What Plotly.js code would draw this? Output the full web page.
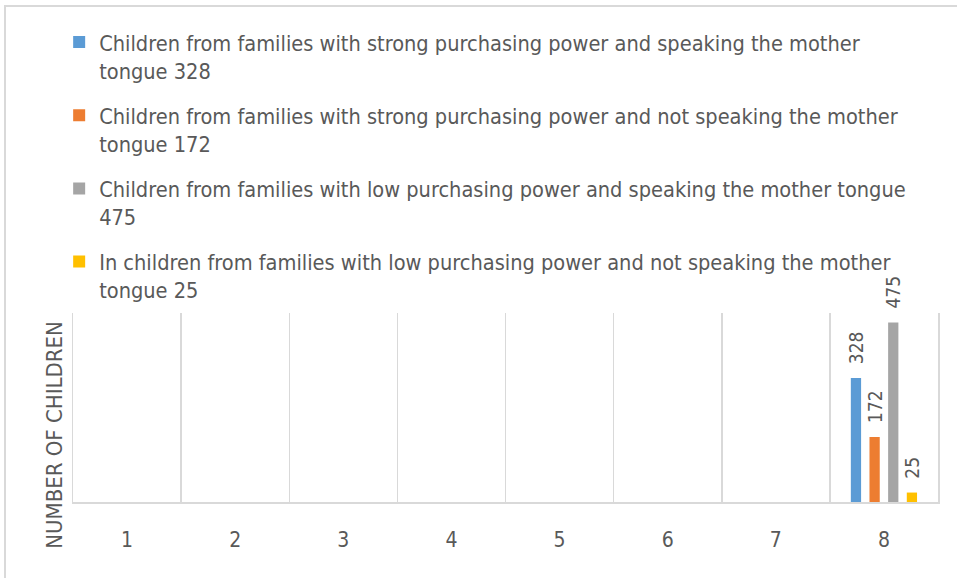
<!DOCTYPE html>
<html>
<head>
<meta charset="utf-8">
<script src="https://cdn.plot.ly/plotly-3.0.1.min.js"></script>
<style>
  html, body { margin: 0; padding: 0; background: #fff; }
  #wrap { position: relative; width: 957px; height: 578px; overflow: hidden; }
  #frame { position: absolute; left: 4px; top: 5px; width: 1000px; height: 1000px;
           border-left: 2px solid #d9d9d9; border-top: 2px solid #d9d9d9; pointer-events: none; z-index: 5; }
  #chart { position: absolute; left: 0; top: 0; width: 957px; height: 578px; }
</style>
</head>
<body>
<div id="wrap"><div id="chart"></div><div id="frame"></div></div>
<script>
const categories = ['1', '2', '3', '4', '5', '6', '7', '8'];
const seriesNames = [
  'Children from families with strong purchasing power and speaking the mother<br>tongue 328',
  'Children from families with strong purchasing power and not speaking the mother<br>tongue 172',
  'Children from families with low purchasing power and speaking the mother tongue<br>475',
  'In children from families with low purchasing power and not speaking the mother<br>tongue 25'
];
const strongMother = [null, null, null, null, null, null, null, 328];
const strongNoMother = [null, null, null, null, null, null, null, 172];
const lowMother = [null, null, null, null, null, null, null, 475];
const lowNoMother = [null, null, null, null, null, null, null, 25];
const colors = ['#5B9BD5', '#ED7D31', '#A5A5A5', '#FFC000'];
const yTitle = 'NUMBER OF CHILDREN';

const FONT = '"Liberation Sans Narrow", "DejaVu Sans Condensed", "Liberation Sans", sans-serif';
const TXT = '#595959';
const NB = '\u00a0\u00a0';

const allSeries = [strongMother, strongNoMother, lowMother, lowNoMother];
const traces = allSeries.map((vals, i) => ({
  type: 'bar',
  x: categories,
  y: vals,
  name: seriesNames[i],
  legendgroup: 'g' + i,
  marker: { color: colors[i] },
  texttemplate: NB + '%{y}',
  textposition: 'outside',
  textangle: -90,
  constraintext: 'none',
  cliponaxis: false,
  textfont: { family: FONT, size: 19, color: TXT },
  hoverinfo: 'skip'
}));

const layout = {
  width: 957,
  height: 578,
  margin: { l: 73, r: 19, t: 313, b: 76, pad: 0 },
  paper_bgcolor: '#ffffff',
  plot_bgcolor: '#ffffff',
  font: { family: FONT, color: TXT, size: 21 },
  barmode: 'group',
  bargap: 0.31,
  bargroupgap: 0.45,
  showlegend: true,
  legend: {
    x: -0.016, xanchor: 'left',
    y: 2.542, yanchor: 'top',
    orientation: 'v',
    valign: 'top',
    tracegroupgap: 14,
    font: { family: FONT, size: 21.6, color: TXT },
    bgcolor: 'rgba(0,0,0,0)'
  },
  xaxis: {
    type: 'category',
    tickson: 'boundaries',
    showgrid: true,
    gridcolor: '#d9d9d9',
    gridwidth: 1.5,
    showline: true,
    linecolor: '#d9d9d9',
    linewidth: 2,
    ticks: '',
    ticklabelstandoff: 18,
    tickfont: { family: FONT, size: 21, color: TXT },
    zeroline: false
  },
  yaxis: {
    range: [0, 500],
    showgrid: false,
    zeroline: false,
    showticklabels: false,
    ticks: '',
    showline: true,
    mirror: true,
    linecolor: '#d9d9d9',
    linewidth: 1.5
  },
  annotations: [{
    text: yTitle,
    xref: 'paper', yref: 'paper',
    x: -0.021, y: 0.355,
    xanchor: 'center', yanchor: 'middle',
    textangle: -90,
    showarrow: false,
    font: { family: FONT, size: 22, color: TXT }
  }]
};

Plotly.newPlot('chart', traces, layout, { displayModeBar: false, staticPlot: true });
</script>
</body>
</html>
